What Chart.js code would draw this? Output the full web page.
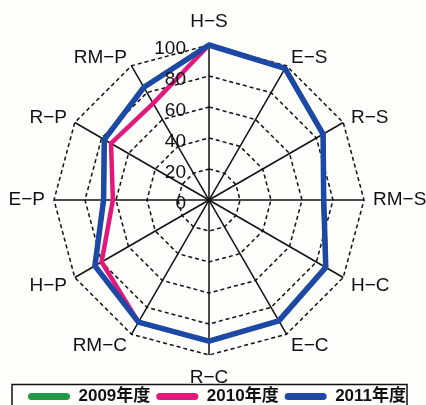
<!DOCTYPE html>
<html>
<head>
<meta charset="utf-8">
<script src="https://cdn.jsdelivr.net/npm/chart.js@4.4.0/dist/chart.umd.min.js"></script>
<style>
  html, body { margin: 0; padding: 0; background: #fefefa; overflow: hidden; }
  #wrap { position: relative; width: 426px; height: 415px; }
</style>
</head>
<body>
<div id="wrap"><canvas id="radar"></canvas></div>
<script>
// axes, clockwise from the top
const axisLabels = ['H−S', 'E−S', 'R−S', 'RM−S', 'H−C', 'E−C', 'R−C', 'RM−C', 'H−P', 'E−P', 'R−P', 'RM−P'];
const tickValues = [0, 20, 40, 60, 80, 100];

const values2009 = [100, 98, 85, 74, 87, 90, 91, 91, 85, 68, 78, 84];
const values2010 = [100, 98, 85, 74, 87, 90, 91, 91, 80, 62, 73, 72];
const values2011 = [100, 98, 85, 74, 87, 90, 91, 91, 85, 68, 78, 84];

const seriesNames = ['2009年度', '2010年度', '2011年度'];
const seriesColors = ['#1f9a45', '#e2187c', '#1c49a6'];

const LABEL_FONT = '19px "Liberation Sans", Arial, sans-serif';
const TICK_FONT = '19px "Liberation Sans", Arial, sans-serif';

// axis names and scale numbers are painted by hand so they can sit where we want
const axisText = {
    id: 'axisText',
    afterDatasetsDraw(chart) {
        const r = chart.scales.r;
        const ctx = chart.ctx;
        ctx.save();
        ctx.fillStyle = '#111';
        ctx.textBaseline = 'middle';
        ctx.font = LABEL_FONT;
        axisLabels.forEach((text, i) => {
            const p = r.getPointPosition(i, r.drawingArea + 9);
            const a = r.getIndexAngle(i);
            const sin = Math.sin(a);
            const cos = Math.cos(a);
            let y = p.y;
            if (Math.abs(sin) < 0.1) {
                ctx.textAlign = 'center';
                y -= cos * 14;
            } else {
                ctx.textAlign = sin > 0 ? 'left' : 'right';
                if (cos < -0.1) y += 4;
            }
            ctx.fillText(text, p.x, y);
        });

        ctx.font = TICK_FONT;
        ctx.textAlign = 'right';
        tickValues.forEach(v => {
            const d = r.getDistanceFromCenterForValue(v);
            ctx.fillText(String(v), r.xCenter - 23, r.yCenter - d + 4);
        });
        ctx.restore();
    }
};

// legend row sits a little right of centre, with a frame around it
const legendShift = 8;
const legendFrame = {
    id: 'legendFrame',
    afterLayout(chart) {
        chart.legend.left += legendShift;
        chart.legend.right += legendShift;
    },
    afterDraw(chart) {
        const boxes = chart.legend.legendHitBoxes;
        if (!boxes || !boxes.length) return;
        const first = boxes[0];
        const last = boxes[boxes.length - 1];
        const x0 = first.left - 16;
        const x1 = last.left + last.width + 1;
        const yMid = first.top + first.height / 2;
        const ctx = chart.ctx;
        ctx.save();
        ctx.strokeStyle = '#111';
        ctx.lineWidth = 1.5;
        ctx.strokeRect(x0, yMid - 12, x1 - x0, 30);
        ctx.restore();
    }
};

const makeSet = (i, data, width) => ({
    label: seriesNames[i],
    data: data,
    borderColor: seriesColors[i],
    backgroundColor: seriesColors[i],
    borderWidth: width,
    borderJoinStyle: 'round',
    pointRadius: 0,
    pointHoverRadius: 0,
    fill: false,
    order: 2 - i
});

new Chart(document.getElementById('radar'), {
    type: 'radar',
    data: {
        labels: axisLabels,
        datasets: [
            makeSet(0, values2009, 4.5),
            makeSet(1, values2010, 4.5),
            makeSet(2, values2011, 5.5)
        ]
    },
    options: {
        responsive: true,
        maintainAspectRatio: false,
        animation: false,
        devicePixelRatio: 1,
        layout: { padding: { top: 45, left: 0, right: 8, bottom: 0 } },
        scales: {
            r: {
                min: 0,
                max: 100,
                startAngle: 0,
                ticks: { stepSize: 20, display: false },
                pointLabels: { display: false },
                grid: { color: '#111', lineWidth: 1.5, circular: false },
                border: { dash: [4, 3] },
                angleLines: { color: '#111', lineWidth: 1.5 }
            }
        },
        plugins: {
            tooltip: { enabled: false },
            legend: {
                position: 'bottom',
                title: { display: true, text: '', font: { size: 10 }, padding: { top: 15, bottom: 0 } },
                labels: {
                    boxWidth: 42,
                    boxHeight: 7,
                    padding: 6,
                    useBorderRadius: true,
                    borderRadius: 3.5,
                    color: '#111',
                    font: { family: '"Liberation Sans", "Noto Sans CJK JP", sans-serif', size: 17, weight: 'bold' },
                    generateLabels(chart) {
                        return chart.data.datasets.map((ds, i) => ({
                            text: ds.label,
                            fillStyle: ds.borderColor,
                            strokeStyle: ds.borderColor,
                            lineWidth: 0,
                            borderRadius: 3.5,
                            fontColor: '#111',
                            hidden: false,
                            datasetIndex: i
                        }));
                    }
                }
            }
        }
    },
    plugins: [axisText, legendFrame]
});
</script>
</body>
</html>
